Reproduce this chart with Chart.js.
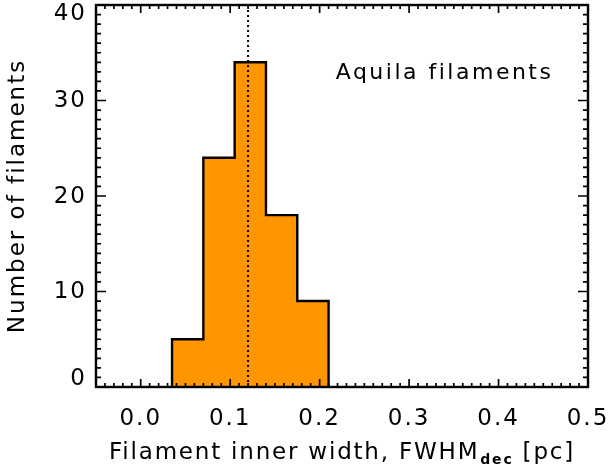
<!DOCTYPE html>
<html>
<head>
<meta charset="utf-8">
<script src="https://cdn.jsdelivr.net/npm/chart.js@4/dist/chart.umd.min.js"></script>
<style>
  html, body { margin: 0; padding: 0; background: #fff; }
  #wrap { width: 609px; height: 471px; position: relative; }
</style>
</head>
<body>
<div id="wrap"><canvas id="histChart" width="609" height="471"></canvas></div>
<script>
// Bordes de los bins (pc) y número de filamentos por bin
const binEdges = [0.035, 0.07, 0.105, 0.14, 0.175, 0.21];
const counts = [5, 24, 34, 18, 9];
// Mediana marcada con línea punteada
const medianWidth = 0.12;
// Etiquetas de los ejes
const xTicks = [0.0, 0.1, 0.2, 0.3, 0.4, 0.5];
const yTicks = [0, 10, 20, 30, 40];

const FONT = '"DejaVu Sans", sans-serif';
const ORANGE = '#ff9600';
const SPACING = '2px';

// centros de cada bin para las barras
const centers = counts.map((c, i) => (binEdges[i] + binEdges[i + 1]) / 2);
const barData = counts.map((c, i) => ({ x: centers[i], y: c }));

// contorno escalonado del histograma
const outline = [{ x: binEdges[0], y: 0 }];
counts.forEach((c, i) => outline.push({ x: binEdges[i], y: c }));
outline.push({ x: binEdges[binEdges.length - 1], y: 0 });

// espaciado de letras para imitar la fuente de IDL
const spacingPlugin = {
    id: 'spacing',
    beforeLayout(chart) { chart.ctx.letterSpacing = SPACING; },
    beforeDraw(chart) { chart.ctx.letterSpacing = SPACING; }
};

// Marco, ticks hacia dentro y textos extra
const framePlugin = {
    id: 'frame',
    afterDatasetsDraw(chart) {
        const { ctx, chartArea: a, scales } = chart;
        const xs = scales.x, ys = scales.y;
        ctx.save();
        ctx.strokeStyle = '#000';
        ctx.lineWidth = 2.4;
        ctx.strokeRect(a.left, a.top, a.right - a.left, a.bottom - a.top);

        ctx.lineWidth = 1.7;
        ctx.beginPath();
        // ticks del eje x (menores cada 0.01)
        for (let k = -5; k <= 50; k++) {
            const px = xs.getPixelForValue(k / 100);
            const len = k % 10 === 0 ? 8 : 4;
            ctx.moveTo(px, a.bottom); ctx.lineTo(px, a.bottom - len);
            ctx.moveTo(px, a.top); ctx.lineTo(px, a.top + len);
        }
        // ticks del eje y (menores cada 1)
        for (let k = 0; k <= 40; k++) {
            const py = ys.getPixelForValue(k);
            const len = k % 10 === 0 ? 10 : 5;
            ctx.moveTo(a.left, py); ctx.lineTo(a.left + len, py);
            ctx.moveTo(a.right, py); ctx.lineTo(a.right - len, py);
        }
        ctx.stroke();

        // etiquetas del eje y: las extremas quedan dentro del marco, como en IDL
        ctx.fillStyle = '#000';
        ctx.letterSpacing = SPACING;
        ctx.font = '23px ' + FONT;
        ctx.textAlign = 'right';
        ctx.textBaseline = 'middle';
        const half = 8.5;
        yTicks.forEach(v => {
            let py = ys.getPixelForValue(v);
            py = Math.min(Math.max(py, a.top + half), a.bottom - half);
            ctx.fillText(String(v), a.left - 9, py + 1);
        });

        // etiqueta interior
        ctx.letterSpacing = '2.5px';
        ctx.font = '22px ' + FONT;
        ctx.textBaseline = 'alphabetic';
        ctx.textAlign = 'left';
        ctx.fillText('Aquila filaments', xs.getPixelForValue(0.218), ys.getPixelForValue(32.2));

        // título del eje x con subíndice
        ctx.letterSpacing = '1.8px';
        const main = 'Filament inner width, FWHM';
        const sub = 'dec';
        const tail = ' [pc]';
        const big = '23px ' + FONT;
        const small = 'bold 14px ' + FONT;
        ctx.font = big;
        const w1 = ctx.measureText(main).width;
        const w3 = ctx.measureText(tail).width;
        ctx.font = small;
        const w2 = ctx.measureText(sub).width + 1;
        const total = w1 + w2 + w3;
        let x0 = (a.left + a.right) / 2 - total / 2;
        const base = 459;
        ctx.font = big;
        ctx.fillText(main, x0, base);
        ctx.font = small;
        ctx.fillText(sub, x0 + w1 + 1, base + 5);
        ctx.font = big;
        ctx.fillText(tail, x0 + w1 + w2, base);
        ctx.restore();
    }
};

const ctx = document.getElementById('histChart').getContext('2d');
new Chart(ctx, {
    type: 'bar',
    data: {
        datasets: [
            {
                type: 'line',
                data: [{ x: medianWidth, y: 0 }, { x: medianWidth, y: 40 }],
                borderColor: '#000',
                borderWidth: 2,
                borderDash: [2, 3],
                pointRadius: 0,
                fill: false,
                order: 0
            },
            {
                type: 'line',
                data: outline,
                stepped: 'before',
                borderColor: '#000',
                borderWidth: 2.4,
                pointRadius: 0,
                fill: false,
                order: 1
            },
            {
                type: 'bar',
                data: barData,
                backgroundColor: ORANGE,
                borderWidth: 0,
                barPercentage: 1,
                categoryPercentage: 1,
                order: 2
            }
        ]
    },
    options: {
        responsive: false,
        animation: false,
        events: [],
        layout: { padding: { top: 5, right: 21, left: 0, bottom: 0 } },
        plugins: { legend: { display: false }, tooltip: { enabled: false } },
        scales: {
            x: {
                type: 'linear',
                offset: false,
                min: -0.05,
                max: 0.5,
                afterBuildTicks: s => { s.ticks = xTicks.map(v => ({ value: v })); },
                afterFit: s => { s.height = 84; s.paddingLeft = 0; s.paddingRight = 0; },
                grid: { display: false, drawTicks: false, offset: false },
                border: { display: false },
                ticks: {
                    padding: 18,
                    color: '#000',
                    font: { family: FONT, size: 23 },
                    callback: v => v.toFixed(1)
                }
            },
            y: {
                min: 0,
                max: 40,
                afterBuildTicks: s => { s.ticks = yTicks.map(v => ({ value: v })); },
                afterFit: s => { s.width = 96; s.paddingTop = 0; s.paddingBottom = 0; },
                grid: { display: false, drawTicks: false },
                border: { display: false },
                ticks: { display: false },
                title: {
                    display: true,
                    text: 'Number of filaments',
                    color: '#000',
                    font: { family: FONT, size: 23 },
                    padding: { top: 4, bottom: 0 }
                }
            }
        }
    },
    plugins: [spacingPlugin, framePlugin]
});
</script>
</body>
</html>
